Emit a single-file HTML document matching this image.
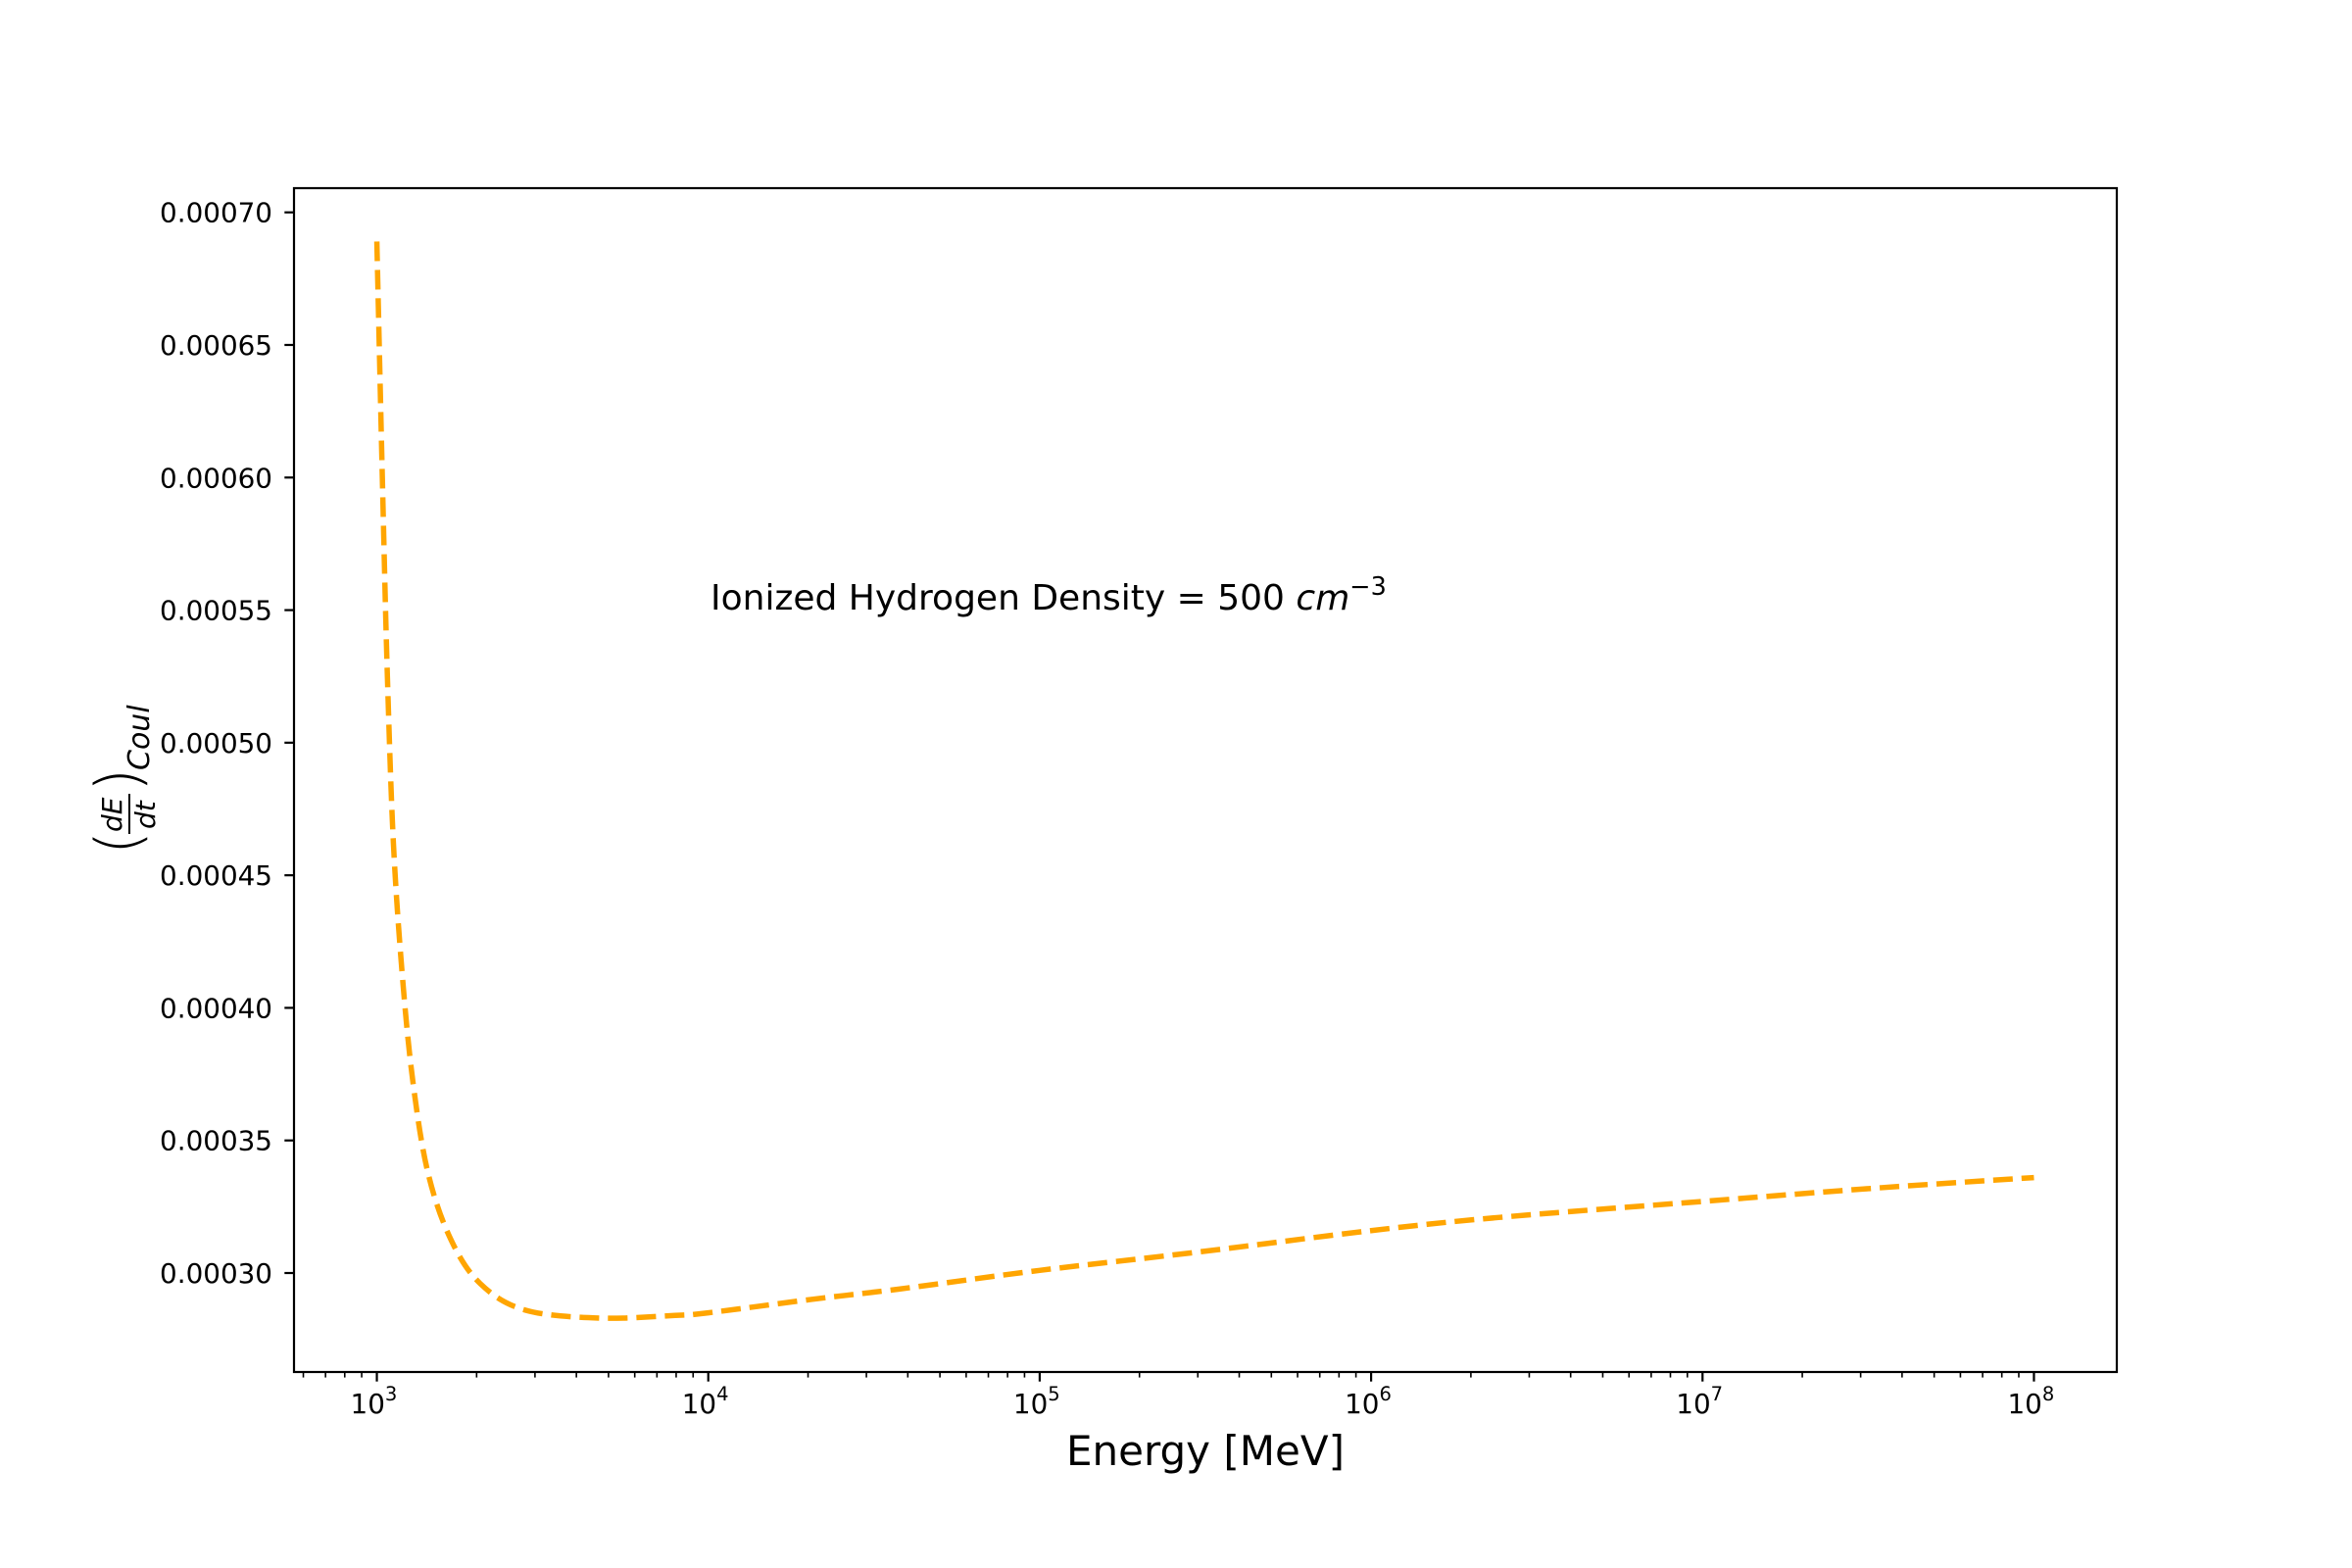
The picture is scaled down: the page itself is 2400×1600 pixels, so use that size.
<!DOCTYPE html>
<html><head><meta charset="utf-8"><style>
html,body{margin:0;padding:0;background:#fff;}
svg{display:block;font-family:"DejaVu Sans","Liberation Sans",sans-serif;}
</style></head><body>
<svg id="chart" width="2400" height="1600" viewBox="0 0 2400 1600" xmlns="http://www.w3.org/2000/svg">
<rect x="0" y="0" width="2400" height="1600" fill="#fff"/>
<g id="plot"></g>
<rect x="300" y="192" width="1860" height="1208" fill="none" stroke="#000" stroke-width="2.2"/>
<text x="725" y="622" font-size="36">Ionized Hydrogen Density = 500 <tspan font-style="italic">cm</tspan><tspan dy="-15" font-size="25.5">−3</tspan></text>
<text x="1230" y="1495" font-size="42" text-anchor="middle">Energy [MeV]</text>
<g transform="translate(128,796) rotate(-90)">
  <text x="-76" y="14" font-size="62" font-weight="100">(</text>
  <text x="-53" y="-4" font-size="28" font-style="italic">dE</text>
  <line x1="-55" y1="4" x2="-14" y2="4" stroke="#000" stroke-width="2"/>
  <text x="-50" y="30" font-size="28" font-style="italic">dt</text>
  <text x="-12" y="14" font-size="62" font-weight="100">)</text>
  <text x="10" y="24" font-size="30" font-style="italic">Coul</text>
</g>
</svg>
<script>
const energies = [1000, 1042, 1076, 1122, 1194, 1285, 1425, 1667, 2051, 2805, 4721, 7943, 10000, 20324, 37931, 100000, 304800, 1000000, 2449000, 10000000, 33110000, 100000000];
const lossValues = [0.000689, 0.000593, 0.000525, 0.000462, 0.000412, 0.000372, 0.000338, 0.000313, 0.000296, 0.000286, 0.000283, 0.000284, 0.000285, 0.000290, 0.000294, 0.000301, 0.000308, 0.000316, 0.000321, 0.000327, 0.000332, 0.000336];
const yTicks = [0.00030, 0.00035, 0.00040, 0.00045, 0.00050, 0.00055, 0.00060, 0.00065, 0.00070];
const yTickLabels = ["0.00030","0.00035","0.00040","0.00045","0.00050","0.00055","0.00060","0.00065","0.00070"];
const xDecades = [3, 4, 5, 6, 7, 8];

const NS = "http://www.w3.org/2000/svg";
const L = 300, R = 2160, T = 192, B = 1400;
const xMinLog = 2.75, xMaxLog = 8.25;
function xScale(e){ return L + (Math.log10(e) - xMinLog) / (xMaxLog - xMinLog) * (R - L); }
function yScale(v){ return 216.7 + (0.0007 - v) / 0.0004 * (1299 - 216.7); }
const g = document.getElementById('plot');
function mk(tag, attrs){ const el = document.createElementNS(NS, tag); for (const k in attrs) el.setAttribute(k, attrs[k]); g.appendChild(el); return el; }

yTicks.forEach((v, i) => {
  const y = yScale(v);
  const t = mk('line', {x1: L - 9.7, x2: L, y1: y, y2: y, stroke: '#000', 'stroke-width': 2.2});
  
  
  const lb = mk('text', {x: L - 22, y: y + 10, 'font-size': 27.8, 'text-anchor': 'end'});
  lb.textContent = yTickLabels[i];
  
  
});

xDecades.forEach(d => {
  const x = xScale(Math.pow(10, d));
  const t = mk('line', {x1: x, x2: x, y1: B, y2: B + 9.7, stroke: '#000', 'stroke-width': 2.2});
  
  
  const lb = mk('text', {x: x - 27, y: 1442, 'font-size': 27.8});
  lb.innerHTML = '10<tspan dy="-13" font-size="19.5">' + d + '</tspan>';
  
  
});
for (let d = 2; d <= 8; d++) {
  for (let m = 2; m <= 9; m++) {
    const e = m * Math.pow(10, d);
    const lg = Math.log10(e);
    if (lg < xMinLog || lg > xMaxLog) continue;
    const x = xScale(e);
    const t = mk('line', {x1: x, x2: x, y1: B, y2: B + 5.6, stroke: '#000', 'stroke-width': 1.6});
    
    
  }
}

const pts = energies.map((e, i) => [xScale(e), yScale(lossValues[i])]);
let d = 'M' + pts[0][0] + ',' + pts[0][1];
for (let i = 0; i < pts.length - 1; i++) {
  const p0 = pts[Math.max(i - 1, 0)], p1 = pts[i], p2 = pts[i + 1], p3 = pts[Math.min(i + 2, pts.length - 1)];
  const c1 = [p1[0] + (p2[0] - p0[0]) / 6, p1[1] + (p2[1] - p0[1]) / 6];
  const c2 = [p2[0] - (p3[0] - p1[0]) / 6, p2[1] - (p3[1] - p1[1]) / 6];
  d += ' C' + c1[0] + ',' + c1[1] + ' ' + c2[0] + ',' + c2[1] + ' ' + p2[0] + ',' + p2[1];
}
const line = mk('path', {d: d, fill: 'none', stroke: '#ffa500', 'stroke-width': 5.5, 'stroke-dasharray': '20 9'});


</script>
</body></html>
